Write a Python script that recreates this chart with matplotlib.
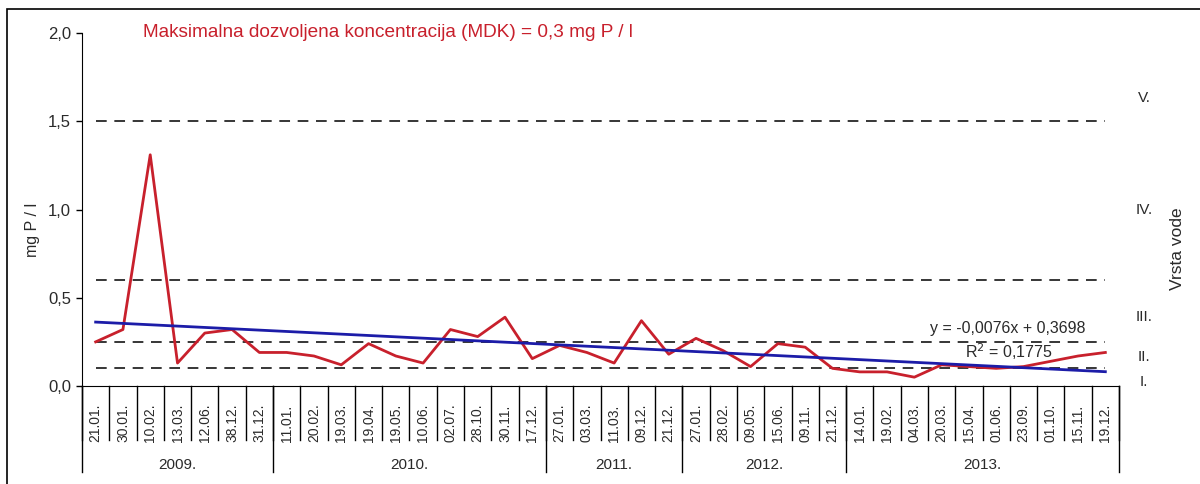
import numpy as np
import matplotlib
matplotlib.use("Agg")
import matplotlib.pyplot as plt
import matplotlib.transforms as mtransforms
from matplotlib.patches import Rectangle

plt.rcParams["font.family"] = ["Liberation Sans", "DejaVu Sans"]

# sampling dates (day.month.) grouped by year
DATES = ["21.01.", "30.01.", "10.02.", "13.03.", "12.06.", "38.12.", "31.12.",
         "11.01.", "20.02.", "19.03.", "19.04.", "19.05.", "10.06.", "02.07.", "28.10.", "30.11.", "17.12.",
         "27.01.", "03.03.", "11.03.", "09.12.", "21.12.",
         "27.01.", "28.02.", "09.05.", "15.06.", "09.11.", "21.12.",
         "14.01.", "19.02.", "04.03.", "20.03.", "15.04.", "01.06.", "23.09.", "01.10.", "15.11.", "19.12."]
YEARS = ["2009.", "2010.", "2011.", "2012.", "2013."]
YEAR_COUNTS = [7, 10, 5, 6, 10]

# total phosphorus, mg P / l
VALUES = [0.25, 0.32, 1.31, 0.13, 0.30, 0.32, 0.19,
          0.19, 0.17, 0.12, 0.24, 0.17, 0.13, 0.32, 0.28, 0.39, 0.155,
          0.23, 0.19, 0.13, 0.37, 0.18,
          0.27, 0.20, 0.11, 0.24, 0.22, 0.10,
          0.08, 0.08, 0.05, 0.12, 0.11, 0.10, 0.11, 0.14, 0.17, 0.19]

# linear trend shown on the chart
SLOPE = -0.0076
INTERCEPT = 0.3698

# class limits (dashed lines) and class labels
LIMITS = [0.1, 0.25, 0.6, 1.5]
CLASS_LABELS = ["I.", "II.", "III.", "IV.", "V."]
CLASS_LABEL_Y = [0.02, 0.165, 0.39, 0.995, 1.63]

RED = "#c8202c"
BLUE = "#1c1ca8"
TXT = "#2a2a2a"

W, H = 1200, 484
fig = plt.figure(figsize=(W / 100, H / 100), dpi=100)
L, R, T, B = 82, 1119, 33, 386
ax = fig.add_axes([L / W, 1 - B / H, (R - L) / W, (B - T) / H])

n = len(VALUES)
x = np.arange(n)

for lim in LIMITS:
    ax.plot([0, n - 1], [lim, lim], color="black", lw=1.1, ls=(0, (7, 5)))

ax.plot(x, VALUES, color=RED, lw=2.0)
trend = SLOPE * (x + 1) + INTERCEPT
ax.plot(x, trend, color=BLUE, lw=2.0)

ax.set_xlim(-0.5, n - 0.5)
ax.set_ylim(0, 2.0)
ax.set_yticks([0, 0.5, 1.0, 1.5, 2.0])
ax.set_yticklabels(["0,0", "0,5", "1,0", "1,5", "2,0"], fontsize=12, color=TXT)
ax.tick_params(axis="y", length=4, width=1, pad=4)
ax.set_xticks([])
for s in ["top", "right"]:
    ax.spines[s].set_visible(False)
fig.text(33 / W, 1 - 230 / H, "mg P / l", rotation=90, ha="center", va="center",
         fontsize=11.5, color=TXT)

# category labels and separators below the axis
tr = mtransforms.blended_transform_factory(ax.transData, ax.transAxes)
ax_h = B - T
for i, d in enumerate(DATES):
    ax.text(i, (B - 442) / ax_h, d, rotation=90, ha="center", va="bottom",
            fontsize=10, color=TXT, transform=tr)
for i in range(n + 1):
    ax.plot([i - 0.5, i - 0.5], [0, (B - 440) / ax_h], color="black", lw=1,
            transform=tr, clip_on=False)
start = 0
for yr, cnt in zip(YEARS, YEAR_COUNTS):
    ax.plot([start - 0.5, start - 0.5], [0, (B - 472) / ax_h], color="black", lw=1,
            transform=tr, clip_on=False)
    ax.text(start - 0.5 + cnt / 2, (B - 465) / ax_h, yr, ha="center", va="center",
            fontsize=11, color=TXT, transform=tr)
    start += cnt
ax.plot([n - 0.5, n - 0.5], [0, (B - 472) / ax_h], color="black", lw=1,
        transform=tr, clip_on=False)

# class labels on the right
tr2 = mtransforms.blended_transform_factory(fig.transFigure, ax.transData)
for lab, yv in zip(CLASS_LABELS, CLASS_LABEL_Y):
    ax.text(1144 / W, yv, lab, ha="center", va="center", fontsize=11,
            color=TXT, transform=tr2, clip_on=False)
fig.text(1178 / W, 1 - 249 / H, "Vrsta vode", rotation=90, ha="center", va="center",
         fontsize=12.5, color=TXT)

# trend equation
fig.text(1008 / W, 1 - 328 / H, "y = -0,0076x + 0,3698", ha="center", va="center",
         fontsize=11.5, color=TXT)
fig.text(1009 / W, 1 - 352 / H, "R$^2$ = 0,1775", ha="center", va="center",
         fontsize=11.5, color=TXT)

fig.text(143 / W, 1 - 33 / H, "Maksimalna dozvoljena koncentracija (MDK) = 0,3 mg P / l",
         ha="left", va="center", fontsize=13.7, color=RED)

# outer frame (top and left edges visible)
fig.patches.append(Rectangle((7 / W, -0.1), 1.2, 1 - 9 / H + 0.1, transform=fig.transFigure,
                             fill=False, edgecolor="black", lw=1.2))

fig.savefig("out.png", dpi=100)
